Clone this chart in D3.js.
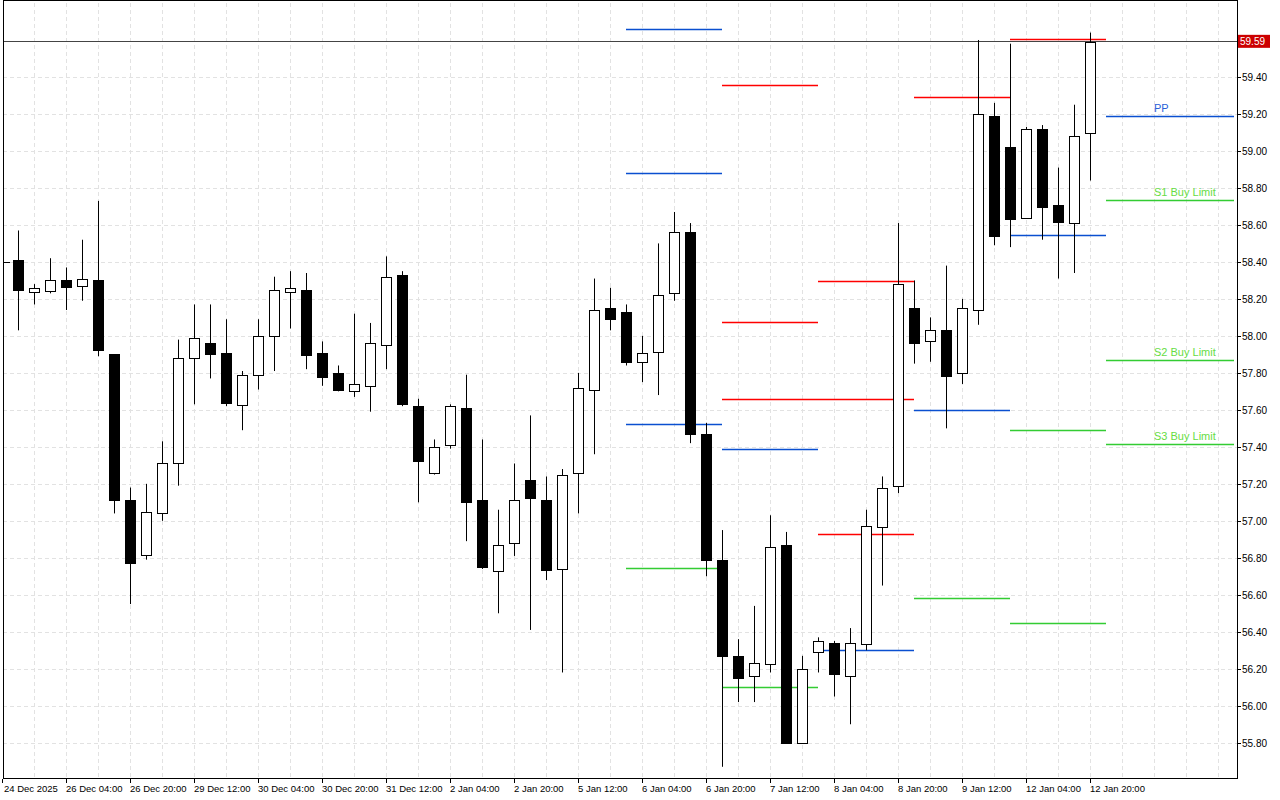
<!DOCTYPE html>
<html><head><meta charset="utf-8">
<script src="https://cdn.jsdelivr.net/npm/d3@7"></script>
<style>body{margin:0;background:#fff}svg{display:block}</style>
</head><body>
<svg id="c" width="1280" height="800"></svg>
<script>
const opens  = [58.41,58.24,58.24,58.30,58.27,58.30,57.90,57.11,56.82,57.04,57.31,57.88,57.96,57.91,57.63,57.79,58.00,58.24,58.25,57.91,57.80,57.70,57.73,57.95,58.33,57.62,57.26,57.41,57.61,57.11,56.73,56.88,57.22,57.11,56.74,57.26,57.71,58.15,58.13,57.86,57.91,58.23,58.56,57.47,56.79,56.27,56.16,56.23,56.87,55.80,56.29,56.34,56.16,56.33,56.97,57.19,58.15,57.97,58.03,57.80,58.14,59.19,59.02,58.64,59.12,58.71,58.61,59.10];
const highs  = [58.57,58.28,58.42,58.37,58.52,58.73,57.90,57.18,57.20,57.43,57.98,58.17,58.17,58.09,57.81,58.09,58.32,58.35,58.34,57.97,57.84,58.12,58.07,58.43,58.35,57.66,57.44,57.63,57.79,57.44,57.06,57.31,57.57,57.24,57.28,57.80,58.31,58.26,58.17,58.00,58.50,58.67,58.61,57.53,56.95,56.36,56.54,57.03,56.94,56.27,56.37,56.35,56.42,57.06,57.24,58.61,58.30,58.10,58.38,58.20,59.60,59.26,59.58,59.13,59.14,58.91,59.25,59.64];
const lows   = [58.03,58.17,58.23,58.14,58.19,57.89,57.04,56.55,56.79,57.00,57.19,57.63,57.77,57.62,57.49,57.71,57.81,58.04,57.82,57.73,57.70,57.67,57.59,57.82,57.62,57.10,57.25,57.39,56.89,56.74,56.50,56.81,56.41,56.68,56.18,57.04,57.36,58.03,57.84,57.75,57.68,58.19,57.42,56.70,55.67,56.02,56.02,56.18,55.80,55.80,56.18,56.05,55.90,56.30,56.65,57.15,57.85,57.86,57.50,57.74,58.06,58.49,58.48,58.64,58.52,58.31,58.34,58.84];
const closes = [58.25,58.26,58.30,58.26,58.31,57.92,57.11,56.77,57.05,57.31,57.88,57.99,57.90,57.64,57.79,58.00,58.25,58.26,57.90,57.78,57.71,57.74,57.96,58.32,57.63,57.32,57.40,57.62,57.10,56.75,56.87,57.11,57.12,56.73,57.25,57.72,58.14,58.09,57.86,57.91,58.22,58.56,57.47,56.79,56.27,56.15,56.23,56.86,55.80,56.20,56.35,56.17,56.34,56.97,57.18,58.28,57.96,58.03,57.78,58.15,59.20,58.54,58.63,59.12,58.70,58.62,59.08,59.59];
const lastPrice = 59.59;
const xLabels = ["24 Dec 2025","26 Dec 04:00","26 Dec 20:00","29 Dec 12:00","30 Dec 04:00","30 Dec 20:00","31 Dec 12:00","2 Jan 04:00","2 Jan 20:00","5 Jan 12:00","6 Jan 04:00","6 Jan 20:00","7 Jan 12:00","8 Jan 04:00","8 Jan 20:00","9 Jan 12:00","12 Jan 04:00","12 Jan 20:00"];
const yTicks = [55.8,56.0,56.2,56.4,56.6,56.8,57.0,57.2,57.4,57.6,57.8,58.0,58.2,58.4,58.6,58.8,59.0,59.2,59.4];
const levelStarts = [38,38,38,38, 44,44,44,44,44, 50,50,50,50, 56,56,56, 62,62,62,62];
const levelPrices = [59.658,58.882,57.524,56.745, 59.358,58.074,57.660,57.390,56.103, 58.296,57.661,56.930,56.302, 59.294,57.597,56.582, 59.605,58.548,57.492,56.448];
const levelKinds  = ["b","b","b","g", "r","r","r","b","g", "r","r","r","b", "r","b","g", "r","b","g","g"];
const pivotNames  = ["PP","S1 Buy Limit","S2 Buy Limit","S3 Buy Limit"];
const pivotPrices = [59.191,58.737,57.867,57.413];
const pivotKinds  = ["b","g","g","g"];

const svg = d3.select("#c");
const L=3,R=1237,T=3,B=779;
const FONT="Liberation Sans, Arial, sans-serif";
const x = d3.scaleLinear().domain([0,67]).range([18,1090]);
const y = d3.scaleLinear().domain([55.604,59.80]).range([B,T]);
const col = {r:"#ff0000",b:"#0a4fd0",g:"#33cc33"};
const py = d=>Math.round(y(d))+0.5;

const g = svg.append("g");
g.selectAll(".hg").data(yTicks).join("line").attr("x1",L).attr("x2",R)
 .attr("y1",py).attr("y2",py).attr("stroke","#e2e2e2").attr("stroke-dasharray","4,3");
g.selectAll(".vg").data(d3.range(1,76,2)).join("line").attr("y1",T).attr("y2",B)
 .attr("x1",d=>x(d)+0.5).attr("x2",d=>x(d)+0.5)
 .attr("stroke","#e2e2e2").attr("stroke-dasharray","4,3");

g.selectAll(".lv").data(levelPrices).join("line")
 .attr("x1",(d,i)=>x(levelStarts[i])).attr("x2",(d,i)=>x(levelStarts[i]+6))
 .attr("y1",py).attr("y2",py)
 .attr("stroke",(d,i)=>col[levelKinds[i]]).attr("stroke-width",1.3);
g.selectAll(".pv").data(pivotPrices).join("line")
 .attr("x1",x(68)).attr("x2",x(76)).attr("y1",py).attr("y2",py)
 .attr("stroke",(d,i)=>col[pivotKinds[i]]).attr("stroke-width",1.3);
g.selectAll(".pt").data(pivotPrices).join("text")
 .attr("x",1154).attr("y",d=>y(d)-4)
 .attr("fill",(d,i)=>pivotKinds[i]==="b"?"#2a5fd8":"#66dd44")
 .attr("font-family",FONT).attr("font-size",11)
 .text((d,i)=>pivotNames[i]);

g.append("line").attr("x1",L).attr("x2",R).attr("y1",py(lastPrice)-1).attr("y2",py(lastPrice)-1)
 .attr("stroke","#444").attr("stroke-width",1);

const idx = d3.range(opens.length);
g.selectAll(".wk").data(idx).join("line")
 .attr("x1",i=>x(i)+0.5).attr("x2",i=>x(i)+0.5)
 .attr("y1",i=>y(highs[i])).attr("y2",i=>y(lows[i]))
 .attr("stroke","#000").attr("stroke-width",1);
g.selectAll(".bd").data(idx).join("rect")
 .attr("x",i=>x(i)-4.5).attr("width",10)
 .attr("y",i=>py(Math.max(opens[i],closes[i])))
 .attr("height",i=>Math.max(2,Math.round(Math.abs(y(opens[i])-y(closes[i])))))
 .attr("fill",i=>closes[i]>=opens[i]?"#fff":"#000")
 .attr("stroke","#000").attr("stroke-width",1);

svg.append("rect").attr("x",L+0.5).attr("y",T-2.5).attr("width",R-L).attr("height",B-T+2)
 .attr("fill","none").attr("stroke","#000");
svg.append("line").attr("x1",L).attr("x2",10).attr("y1",262.5).attr("y2",262.5).attr("stroke","#000");

const ya = svg.append("g").attr("font-family",FONT).attr("font-size",10);
ya.selectAll("line").data(yTicks).join("line").attr("x1",R).attr("x2",R+4)
 .attr("y1",py).attr("y2",py).attr("stroke","#000");
ya.selectAll("text").data(yTicks).join("text").attr("x",R+5).attr("y",d=>y(d)+4)
 .text(d=>d.toFixed(2));
svg.append("rect").attr("x",R+1).attr("y",y(lastPrice)-7).attr("width",32).attr("height",13).attr("fill","#cc0000");
svg.append("text").attr("x",R+3).attr("y",y(lastPrice)+3.5).attr("fill","#fff")
 .attr("font-family",FONT).attr("font-size",10).text(lastPrice.toFixed(2));

const xa = svg.append("g").attr("font-family",FONT).attr("font-size",9.5);
xa.selectAll("line").data(xLabels).join("line")
 .attr("x1",(d,k)=>x(4*k-1)+0.5).attr("x2",(d,k)=>x(4*k-1)+0.5).attr("y1",B).attr("y2",B+4).attr("stroke","#000");
xa.selectAll("text").data(xLabels).join("text")
 .attr("x",(d,k)=>Math.max(4,x(4*k-1))).attr("y",792).text(d=>d);
</script>
</body></html>
